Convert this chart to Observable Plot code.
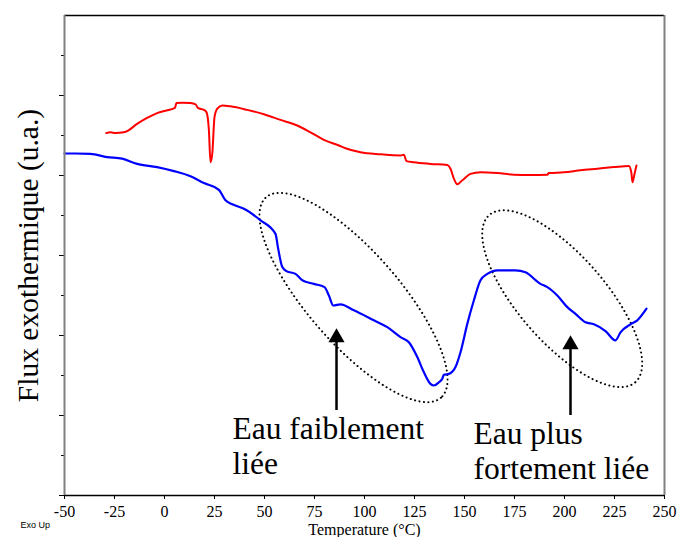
<!DOCTYPE html>
<html>
<head>
<meta charset="utf-8">
<script src="https://cdn.jsdelivr.net/npm/d3@7"></script>
<script src="https://cdn.jsdelivr.net/npm/@observablehq/plot@0.6"></script>
<style>
  html, body { margin: 0; padding: 0; background: #fff; }
  #chart { width: 677px; height: 537px; }
</style>
</head>
<body>
<div id="chart"></div>
<script>
// ---- Data ----
// Red DSC curve: temperature (°C) and heat flux (u.a.)
const redTemp = [-29.2,-27,-24.5,-20.4,-18,-13.7,-8.7,-3.7,1.4,5.2,6,8.9,13,15.5,16.7,19.7,21,22.2,23,23.9,25,26.4,28.9,33,41.4,49.7,58,66.4,73,79.7,87.2,90.5,98,108,118,119.7,121,124.7,133,141.4,143,144.7,146.4,148.9,153,158,166.4,174.7,183,191.4,192.2,199.7,208,216.4,224.7,232.2,233.4,234,235,236];
const redFlux = [9.06,9.08,9.06,9.08,9.13,9.29,9.44,9.56,9.63,9.69,9.81,9.82,9.81,9.78,9.69,9.64,9.58,9.13,8.33,8.55,9.46,9.67,9.75,9.73,9.64,9.53,9.39,9.25,9.08,8.89,8.75,8.68,8.58,8.53,8.50,8.52,8.36,8.33,8.29,8.26,8.17,7.92,7.78,7.88,8.04,8.08,8.06,8.02,8.01,8.02,8.06,8.08,8.13,8.17,8.21,8.24,8.08,7.83,8.04,8.25];
// Blue DSC curve
const blueTemp = [-50,-44.5,-37,-28.7,-21.2,-13.7,-3.7,4.7,13,19.7,27.2,30.5,33.9,39.7,48,55.5,56.7,58.9,61,65.5,68.9,74.7,80,82.2,84.4,88,94.7,104.7,111.4,118,122.2,126.4,129.7,133,134.7,137.2,138.9,139.7,142.2,145.5,148,151.4,154.7,158,161.4,166.4,175.5,180.5,188,191.4,196.4,201.4,205.5,210.5,214.7,220.5,225.5,228,233,236.4,241];
const blueFlux = [8.55,8.55,8.54,8.46,8.42,8.29,8.21,8.11,7.98,7.81,7.64,7.38,7.28,7.17,6.88,6.54,6.21,5.71,5.61,5.54,5.38,5.29,5.21,5.00,4.75,4.78,4.63,4.38,4.21,3.96,3.83,3.46,3.08,2.79,2.75,2.83,2.92,3.02,3.04,3.21,3.58,4.29,4.88,5.38,5.54,5.63,5.63,5.58,5.29,5.21,5.00,4.71,4.54,4.33,4.28,4.11,3.88,4.08,4.28,4.38,4.67];
// Axis ticks
const xTicks = [-50,-25,0,25,50,75,100,125,150,175,200,225,250];
const yMajorTicks = [0,2,4,6,8,10];
const yMinorTicks = [1,3,5,7,9,11];
// Annotations
const noteText = ["Eau faiblement","liée","Eau plus","fortement liée"];
const noteTemp = [34,34,154.5,154.5];
const noteFlux = [1.425,0.55,1.3,0.425];
const arrowTemp = [86,203];
const arrowTip = [4.175,4.0];
const arrowBase = [2.275,2.15];
const ellipseCenterTemp = [94.5,198.85];
const ellipseCenterFlux = [4.95,4.92];

// ---- Layout ----
const W = 677, H = 537;
const mL = 64, mR = 13, mT = 15, mB = 42;
const xDom = [-50,250], yDom = [0,12];
const kx = (W - mL - mR) / (xDom[1] - xDom[0]);   // px per °C
const ky = (H - mT - mB) / (yDom[1] - yDom[0]);   // px per flux unit
const ellipseShape = [{rx:133, ry:46, angle:48.9},{rx:111, ry:43.5, angle:48.9}];

const red = redTemp.map((t,i)=>({t, v: redFlux[i]}));
const blue = blueTemp.map((t,i)=>({t, v: blueFlux[i]}));
const notes = noteText.map((s,i)=>({s, t: noteTemp[i], v: noteFlux[i]}));
const arrows = arrowTemp.map((t,i)=>({t, tip: arrowTip[i], base: arrowBase[i]}));
const ellipses = [];
ellipseCenterTemp.forEach((ct,j)=>{
  const e = ellipseShape[j], th = e.angle*Math.PI/180;
  for (let k=0;k<=240;k++){
    const p = 2*Math.PI*k/240;
    const px = e.rx*Math.cos(p)*Math.cos(th) - e.ry*Math.sin(p)*Math.sin(th);
    const py = e.rx*Math.cos(p)*Math.sin(th) + e.ry*Math.sin(p)*Math.cos(th);
    ellipses.push({id:j, t: ct + px/kx, v: ellipseCenterFlux[j] - py/ky});
  }
});

const serif = "'Liberation Serif','Times New Roman',Times,serif";
const hasAxes = typeof Plot.axisX === "function";
const fmt = d => String(d);

const marks = [
  Plot.ruleY([12], {stroke:"#000", strokeWidth:1.5}),
  Plot.ruleX([250], {stroke:"#808080", strokeWidth:2}),
  Plot.line(ellipses, {x:"t", y:"v", z:"id", stroke:"#000", strokeWidth:2, strokeDasharray:"0.1,4.4", strokeLinecap:"round"}),
  Plot.line(red, {x:"t", y:"v", stroke:"#ff0000", strokeWidth:2, curve:"monotone-x"}),
  Plot.line(blue, {x:"t", y:"v", stroke:"#0000ff", strokeWidth:2.2, curve:"monotone-x"}),
  Plot.ruleX(arrows, {x:"t", y1:"base", y2:"tip", stroke:"#000", strokeWidth:2.5, dy:6}),
  Plot.dot(arrows, {x:"t", y:"tip", symbol:"triangle", r:6, fill:"#000", stroke:"none", dy:9}),
  Plot.text(notes, {x:"t", y:"v", text:"s", textAnchor:"start", lineAnchor:"bottom", fontSize:31.5, fontFamily:serif, fill:"#000"}),
  Plot.text(["Flux exothermique (u.a.)"], {text:d=>d, frameAnchor:"left", rotate:-90, dx:-27, lineAnchor:"bottom", textAnchor:"middle", fontSize:29.5, fontFamily:serif, fill:"#000"}),
  Plot.text(["Temperature (°C)"], {text:d=>d, frameAnchor:"bottom", dy:39.5, lineAnchor:"bottom", fontSize:16, fontFamily:serif, fill:"#000"}),
  Plot.text(["Exo Up"], {text:d=>d, frameAnchor:"bottom-left", dx:-44, dy:32, lineAnchor:"bottom", textAnchor:"start", fontSize:9, fontFamily:"'Liberation Sans',Arial,sans-serif", fill:"#000"}),
  Plot.ruleY([0], {stroke:"#000", strokeWidth:1.5}),
  Plot.ruleX([-50], {stroke:"#808080", strokeWidth:2})
];
if (hasAxes) {
  marks.unshift(
    Plot.axisX({ticks:xTicks, tickSize:4, tickPadding:6, tickFormat:fmt, fontSize:16, fontFamily:serif, label:null, stroke:"#000"}),
    Plot.axisY({ticks:yMajorTicks, tickSize:5, tickFormat:()=>"", label:null}),
    Plot.axisY({ticks:yMinorTicks, tickSize:3, tickFormat:()=>"", label:null})
  );
}

const chart = Plot.plot({
  width: W, height: H,
  marginLeft: mL, marginRight: mR, marginTop: mT, marginBottom: mB,
  style: {background:"#fff", color:"#000", fontFamily: serif, fontSize:"16px"},
  x: hasAxes ? {domain:xDom, axis:null} : {domain:xDom, ticks:xTicks, tickSize:4, tickPadding:6, tickFormat:fmt, label:null},
  y: hasAxes ? {domain:yDom, axis:null} : {domain:yDom, ticks:d3.range(0,12,1), tickSize:4, tickFormat:()=>"", label:null},
  marks
});
document.getElementById("chart").appendChild(chart);
</script>
</body>
</html>
